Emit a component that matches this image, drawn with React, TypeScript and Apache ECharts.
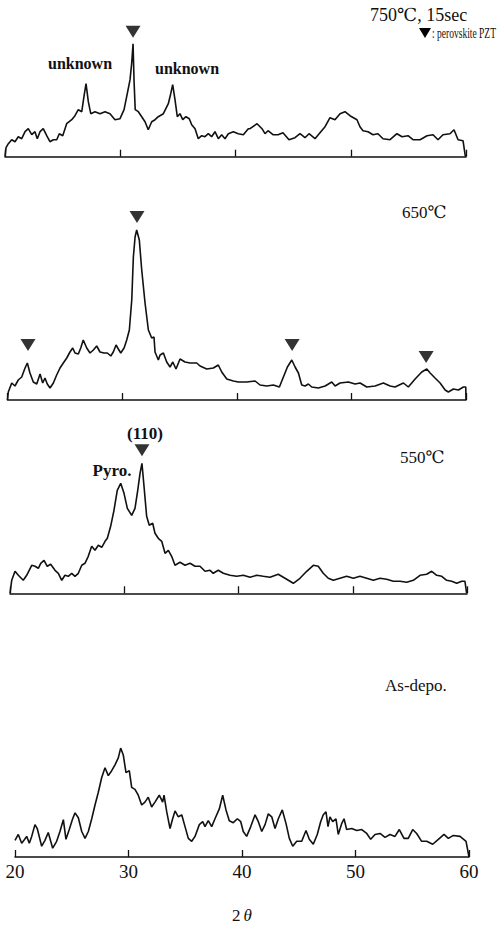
import React, { useEffect, useRef } from "react";
import * as echarts from "echarts";

// 2θ range and ticks
const THETA_MIN = 20;
const THETA_MAX = 60;
const THETA_STEP = 10;

// [2θ, intensity (arb.)]
const p750: [number, number][] = [
  [20.0, 0], [20.09, 9], [20.29, 13], [20.58, 17], [20.87, 15], [21.15, 20], [21.45, 18], [21.74, 25], [22.02, 28], [22.32, 22],
  [22.6, 25], [22.8, 18], [23.04, 25], [23.32, 28], [23.62, 21], [23.9, 15], [24.19, 17], [24.49, 17], [24.71, 23], [25.01, 21],
  [25.35, 33], [25.79, 37], [26.07, 41], [26.36, 47], [26.66, 45], [26.85, 60], [27.03, 73], [27.23, 55], [27.44, 43], [27.81, 45],
  [28.24, 43], [28.68, 45], [29.11, 43], [29.54, 37], [29.98, 38], [30.33, 47], [30.61, 63], [30.85, 77], [30.99, 93], [31.11, 113],
  [31.2, 75], [31.3, 47], [31.57, 45], [31.86, 40], [32.15, 35], [32.43, 27], [32.73, 35], [33.02, 37], [33.3, 40], [33.74, 43],
  [34.17, 53], [34.38, 63], [34.55, 72], [34.75, 57], [34.95, 40], [35.18, 43], [35.42, 37], [35.7, 40], [35.99, 38], [36.2, 32],
  [36.49, 28], [36.77, 18], [37.07, 21], [37.35, 20], [37.64, 23], [37.93, 20], [38.22, 25], [38.51, 18], [38.8, 22], [39.09, 18],
  [39.38, 23], [39.81, 25], [40.24, 23], [40.68, 22], [41.11, 28], [41.26, 28], [41.87, 33], [42.3, 28], [42.56, 23], [42.82, 26],
  [43.25, 22], [43.69, 22], [44.12, 24], [44.64, 17], [45.16, 19], [45.6, 23], [46.03, 19], [46.38, 23], [46.9, 18], [47.33, 24],
  [47.77, 30], [48.2, 39], [48.63, 37], [49.07, 43], [49.5, 45], [49.93, 41], [50.54, 37], [50.8, 30], [51.06, 26], [51.5, 25],
  [51.93, 22], [52.36, 23], [52.8, 18], [53.41, 17], [54.01, 23], [54.45, 20], [54.97, 21], [55.4, 17], [56.01, 17], [56.62, 21],
  [57.14, 22], [57.57, 17], [58.0, 22], [58.61, 23], [58.96, 27], [59.31, 17], [59.74, 16], [59.95, 0],
];

const p650: [number, number][] = [
  [20.0, 0], [20.07, 8], [20.37, 17], [20.65, 14], [20.94, 20], [21.24, 23], [21.53, 32], [21.73, 37], [21.96, 27], [22.25, 18],
  [22.55, 16], [22.84, 26], [23.07, 17], [23.27, 22], [23.47, 16], [23.71, 12], [24.0, 17], [24.29, 25], [24.58, 32], [24.87, 37],
  [25.17, 42], [25.45, 48], [25.69, 52], [25.89, 47], [26.18, 46], [26.39, 52], [26.61, 60], [26.91, 52], [27.2, 47], [27.49, 50],
  [27.78, 54], [28.07, 48], [28.42, 47], [28.71, 47], [29.01, 44], [29.23, 48], [29.47, 55], [29.67, 51], [29.88, 47], [30.17, 52],
  [30.4, 60], [30.63, 70], [30.84, 100], [30.98, 143], [31.13, 163], [31.27, 170], [31.5, 160], [31.71, 130], [32.0, 97], [32.29, 70],
  [32.58, 62], [32.78, 63], [32.87, 48], [33.16, 40], [33.31, 45], [33.6, 47], [33.89, 38], [34.18, 33], [34.42, 38], [34.7, 31],
  [35.05, 41], [35.49, 38], [35.93, 37], [36.51, 37], [36.8, 34], [37.38, 31], [37.96, 32], [38.39, 35], [38.69, 28], [39.13, 21],
  [39.7, 19], [40.14, 18], [40.87, 18], [41.6, 19], [42.03, 15], [42.62, 14], [43.19, 15], [43.72, 13], [44.07, 23], [44.42, 33],
  [44.8, 40], [45.09, 33], [45.38, 27], [45.67, 15], [45.96, 14], [46.25, 16], [46.54, 13], [47.12, 12], [47.71, 14], [48.29, 18],
  [48.58, 14], [49.01, 17], [49.74, 18], [50.32, 16], [50.76, 17], [51.34, 13], [52.07, 14], [52.79, 17], [53.38, 14], [53.81, 13],
  [54.54, 17], [54.97, 13], [55.56, 21], [56.14, 28], [56.58, 31], [56.87, 27], [57.3, 22], [57.74, 17], [58.18, 10], [58.46, 8],
  [58.9, 11], [59.34, 10], [59.77, 13], [59.98, 13], [60.0, 0],
];

const p550: [number, number][] = [
  [20.0, 0], [20.15, 13], [20.44, 22], [20.73, 18], [21.16, 13], [21.46, 18], [21.9, 28], [22.19, 27], [22.48, 25], [22.69, 30],
  [22.98, 33], [23.26, 27], [23.56, 29], [23.94, 23], [24.23, 20], [24.53, 13], [24.81, 18], [25.1, 17], [25.4, 20], [25.69, 17],
  [25.98, 20], [26.28, 28], [26.56, 30], [26.85, 37], [27.15, 47], [27.44, 43], [27.73, 48], [28.03, 46], [28.32, 52], [28.52, 55],
  [28.81, 67], [29.1, 83], [29.39, 103], [29.69, 110], [29.98, 100], [30.27, 85], [30.65, 78], [30.94, 85], [31.18, 103], [31.38, 120],
  [31.55, 130], [31.73, 107], [31.96, 77], [32.19, 68], [32.49, 70], [32.69, 60], [32.98, 55], [33.28, 52], [33.57, 40], [33.86, 43],
  [34.15, 37], [34.44, 28], [34.88, 31], [35.32, 28], [35.76, 30], [36.19, 27], [36.63, 27], [37.07, 22], [37.51, 23], [37.79, 20],
  [38.23, 23], [38.67, 20], [39.26, 18], [39.84, 17], [40.42, 18], [41.01, 16], [41.59, 18], [42.17, 17], [42.76, 16], [43.48, 19],
  [44.07, 15], [44.8, 10], [45.38, 15], [45.97, 22], [46.55, 28], [46.98, 27], [47.42, 20], [47.86, 15], [48.3, 13], [48.88, 15],
  [49.47, 17], [50.05, 15], [50.63, 17], [51.22, 15], [51.8, 13], [52.39, 15], [52.97, 14], [53.55, 12], [54.14, 12], [54.72, 11],
  [55.3, 13], [55.89, 18], [56.47, 19], [56.91, 22], [57.35, 18], [57.79, 17], [58.22, 13], [58.66, 12], [59.1, 10], [59.54, 12],
  [59.82, 12], [59.97, 0],
];

const pAsDepo: [number, number][] = [
  [20.0, 17], [20.29, 23], [20.59, 14], [20.79, 17], [21.03, 21], [21.26, 14], [21.47, 21], [21.76, 33], [21.96, 29], [22.35, 11],
  [22.64, 17], [22.93, 25], [23.32, 9], [23.67, 16], [23.96, 26], [24.26, 38], [24.49, 18], [24.78, 28], [25.08, 39], [25.29, 45],
  [25.58, 40], [25.88, 26], [26.17, 19], [26.46, 26], [26.76, 39], [27.05, 53], [27.34, 66], [27.64, 81], [27.93, 91], [28.22, 83],
  [28.52, 88], [28.81, 94], [29.1, 101], [29.31, 111], [29.54, 104], [29.78, 86], [30.07, 88], [30.28, 71], [30.57, 69], [30.86, 63],
  [31.16, 53], [31.45, 56], [31.74, 61], [32.04, 51], [32.33, 56], [32.71, 63], [33.01, 56], [33.13, 63], [33.37, 46], [33.66, 29],
  [33.89, 39], [34.1, 47], [34.39, 41], [34.69, 43], [34.98, 31], [35.27, 19], [35.57, 16], [35.86, 21], [36.24, 33], [36.54, 36],
  [36.74, 31], [37.03, 37], [37.33, 31], [37.62, 39], [38.0, 49], [38.3, 63], [38.59, 48], [38.88, 37], [39.23, 35], [39.59, 39],
  [39.89, 36], [40.11, 26], [40.41, 21], [40.77, 31], [41.15, 43], [41.44, 36], [41.74, 26], [42.03, 33], [42.32, 44], [42.62, 41],
  [42.91, 29], [43.2, 39], [43.55, 48], [43.88, 34], [44.17, 19], [44.47, 11], [44.82, 16], [45.26, 16], [45.64, 27], [45.93, 18],
  [46.28, 13], [46.63, 23], [46.93, 36], [47.16, 43], [47.4, 46], [47.58, 31], [47.75, 41], [47.99, 36], [48.28, 39], [48.48, 23],
  [48.78, 34], [48.99, 39], [49.22, 28], [49.67, 29], [50.11, 27], [50.55, 28], [50.99, 24], [51.34, 18], [51.72, 23], [52.16, 24],
  [52.6, 20], [53.04, 23], [53.48, 21], [53.86, 28], [54.27, 19], [54.65, 19], [55.04, 28], [55.39, 24], [55.83, 16], [56.27, 16],
  [56.8, 13], [57.3, 18], [57.8, 23], [58.18, 19], [58.62, 22], [59.21, 21], [59.74, 16], [60.0, 0],
];

// perovskite PZT markers: [2θ, height]
const tri750: [number, number][] = [[31.11, 125]];
const tri650: [number, number][] = [[21.79, 55], [31.3, 183], [44.83, 55], [56.52, 43]];
const tri550: [number, number][] = [[31.55, 143]];

const SERIF = '"Liberation Serif", "DejaVu Serif", serif';

// panel layout (pixels)
const panels = [
  { data: p750, tri: tri750, left: 5, right: 34, top: 16.7, height: 140, labels: false },
  { data: p650, tri: tri650, left: 7.5, right: 34, top: 200, height: 200, labels: false },
  { data: p550, tri: tri550, left: 10, right: 33, top: 423.3, height: 170, labels: false },
  { data: pAsDepo, tri: [] as [number, number][], left: 15, right: 31, top: 739.3, height: 120, labels: true },
];

export default function App() {
  const ref = useRef<HTMLDivElement>(null);
  useEffect(() => {
    if (!ref.current) return;
    const chart = echarts.init(ref.current, null, { renderer: "svg" });
    const grid = panels.map((p) => ({ left: p.left, right: p.right, top: p.top, height: p.height }));
    const xAxis = panels.map((p, i) => ({
      type: "value",
      gridIndex: i,
      min: THETA_MIN,
      max: THETA_MAX,
      interval: THETA_STEP,
      splitLine: { show: false },
      axisLine: { show: true, lineStyle: { color: "#111", width: 1.5 } },
      axisTick: { show: true, inside: true, length: 7, lineStyle: { color: "#111", width: 1.3 } },
      axisLabel: {
        show: p.labels,
        color: "#111",
        fontFamily: SERIF,
        fontSize: 19,
        margin: 5,
      },
      name: p.labels ? "{a|2}{b|θ}" : "",
      nameLocation: "middle",
      nameGap: 50,
      nameTextStyle: {
        rich: {
          a: { fontFamily: SERIF, fontSize: 17, color: "#111", padding: [0, 3, 0, 0] },
          b: { fontFamily: SERIF, fontSize: 17, fontStyle: "italic", color: "#111" },
        },
      },
    }));
    const yAxis = panels.map((p, i) => ({
      type: "value",
      gridIndex: i,
      min: 0,
      max: p.height,
      show: false,
      splitLine: { show: false },
    }));
    const series: any[] = [];
    panels.forEach((p, i) => {
      series.push({
        type: "line",
        xAxisIndex: i,
        yAxisIndex: i,
        data: p.data,
        showSymbol: false,
        lineStyle: { color: "#111", width: 1.6 },
        clip: false,
      });
      if (p.tri.length) {
        series.push({
          type: "scatter",
          xAxisIndex: i,
          yAxisIndex: i,
          data: p.tri,
          symbol: "triangle",
          symbolRotate: 180,
          symbolSize: [15, 12],
          itemStyle: { color: "#000" },
          clip: false,
        });
      }
    });
    const txt = (
      text: string,
      x: number,
      y: number,
      size: number,
      bold = false,
      align = "left",
      scaleX = 1
    ) => ({
      type: "text",
      x,
      y,
      scaleX,
      style: {
        text,
        fill: "#111",
        font: `${bold ? "bold " : ""}${size}px ${SERIF}`,
        textAlign: align,
        textVerticalAlign: "middle",
      },
    });
    chart.setOption({
      animation: false,
      backgroundColor: "#fff",
      grid,
      xAxis,
      yAxis,
      series,
      graphic: [
        txt("750℃, 15sec", 370, 15, 18),
        {
          type: "polygon",
          shape: { points: [[419, 28], [431, 28], [425, 38]] },
          style: { fill: "#000" },
        },
        txt(": perovskite PZT", 432, 33, 14, false, "left", 0.68),
        txt("unknown", 80, 63, 16, true, "center"),
        txt("unknown", 187, 68, 16, true, "center"),
        txt("650℃", 402, 212, 17),
        txt("(110)", 145, 433, 17, true, "center"),
        txt("Pyro.", 112, 470, 17, true, "center"),
        txt("550℃", 400, 457, 17),
        txt("As-depo.", 385, 685, 17),
      ],
    });
    return () => chart.dispose();
  }, []);
  return (
    <div
      ref={ref}
      style={{ position: "absolute", left: 0, top: 0, width: 500, height: 925, background: "#fff" }}
    />
  );
}
